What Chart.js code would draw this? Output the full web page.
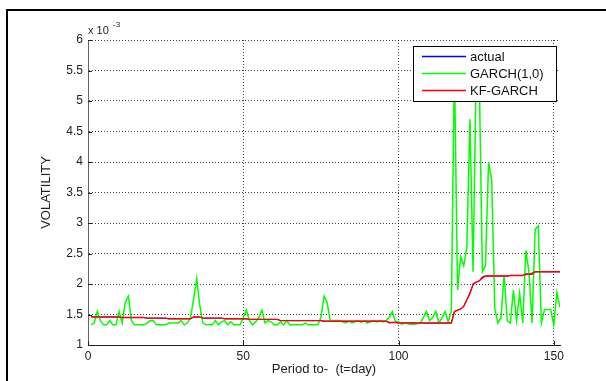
<!DOCTYPE html>
<html>
<head>
<meta charset="utf-8">
<script src="https://cdn.jsdelivr.net/npm/chart.js@4.4.1/dist/chart.umd.min.js"></script>
<style>
  html, body { margin: 0; padding: 0; background: #fff; }
  #wrap { position: relative; width: 606px; height: 381px; }
</style>
</head>
<body>
<div id="wrap"><canvas id="grafico" width="606" height="381"></canvas></div>
<script>
// Valores (escala x 10^-3), periodo 1..152
var actual = [
  1.46,1.46,1.46,1.46,1.46,1.46,1.46,1.46,1.46,1.46,
  1.45,1.45,1.45,1.45,1.45,1.45,1.45,1.45,1.44,1.44,
  1.44,1.44,1.44,1.44,1.44,1.43,1.43,1.43,1.43,1.43,
  1.43,1.43,1.43,1.46,1.46,1.46,1.44,1.44,1.44,1.44,
  1.44,1.44,1.44,1.43,1.43,1.43,1.43,1.43,1.43,1.43,
  1.43,1.42,1.42,1.42,1.42,1.42,1.42,1.42,1.42,1.42,
  1.42,1.40,1.40,1.40,1.40,1.40,1.40,1.40,1.40,1.40,
  1.40,1.40,1.40,1.40,1.40,1.39,1.39,1.39,1.39,1.39,
  1.39,1.39,1.39,1.39,1.39,1.39,1.39,1.39,1.39,1.39,
  1.39,1.39,1.39,1.39,1.39,1.39,1.36,1.37,1.37,1.36,
  1.36,1.36,1.36,1.36,1.36,1.36,1.36,1.36,1.36,1.36,
  1.36,1.36,1.36,1.36,1.36,1.36,1.36,1.55,1.57,1.59,
  1.64,1.74,1.86,1.98,2.03,2.05,2.12,2.13,2.13,2.13,
  2.13,2.13,2.13,2.13,2.13,2.14,2.14,2.14,2.14,2.14,
  2.17,2.16,2.18,2.20,2.20,2.20,2.20,2.20,2.20,2.20,
  2.20,2.20
];
var garch = [
  1.33,1.36,1.55,1.40,1.33,1.33,1.40,1.33,1.33,1.55,
  1.36,1.70,1.80,1.40,1.33,1.33,1.33,1.33,1.36,1.40,
  1.40,1.33,1.33,1.33,1.33,1.36,1.36,1.36,1.36,1.40,
  1.33,1.36,1.45,1.75,2.09,1.65,1.36,1.33,1.33,1.33,
  1.40,1.33,1.38,1.40,1.33,1.38,1.33,1.33,1.33,1.45,
  1.57,1.40,1.33,1.38,1.45,1.57,1.36,1.40,1.38,1.33,
  1.33,1.38,1.33,1.40,1.33,1.33,1.33,1.33,1.33,1.36,
  1.33,1.33,1.33,1.33,1.45,1.80,1.70,1.40,1.40,1.40,
  1.40,1.38,1.36,1.39,1.36,1.38,1.40,1.37,1.40,1.36,
  1.38,1.40,1.38,1.40,1.38,1.40,1.45,1.55,1.38,1.38,
  1.34,1.36,1.35,1.34,1.34,1.35,1.36,1.45,1.55,1.40,
  1.45,1.55,1.36,1.45,1.55,1.38,1.55,5.60,1.90,2.45,
  2.30,2.60,4.70,2.20,5.50,5.40,2.20,2.30,4.00,3.70,
  1.60,1.36,1.45,2.15,1.40,1.36,1.90,1.40,1.85,1.36,
  2.55,2.20,1.36,2.90,2.95,1.36,1.58,1.58,1.58,1.33,
  1.86,1.62
];
var kfGarch = [
  1.46,1.46,1.46,1.46,1.46,1.46,1.46,1.46,1.46,1.46,
  1.45,1.45,1.45,1.45,1.45,1.45,1.45,1.45,1.44,1.44,
  1.44,1.44,1.44,1.44,1.44,1.43,1.43,1.43,1.43,1.43,
  1.43,1.43,1.43,1.46,1.46,1.46,1.44,1.44,1.44,1.44,
  1.44,1.44,1.44,1.43,1.43,1.43,1.43,1.43,1.43,1.43,
  1.43,1.42,1.42,1.42,1.42,1.42,1.42,1.42,1.42,1.42,
  1.42,1.40,1.40,1.40,1.40,1.40,1.40,1.40,1.40,1.40,
  1.40,1.40,1.40,1.40,1.40,1.39,1.39,1.39,1.39,1.39,
  1.39,1.39,1.39,1.39,1.39,1.39,1.39,1.39,1.39,1.39,
  1.39,1.39,1.39,1.39,1.39,1.39,1.37,1.37,1.37,1.36,
  1.36,1.36,1.36,1.36,1.36,1.36,1.36,1.36,1.36,1.36,
  1.36,1.36,1.36,1.36,1.36,1.36,1.36,1.55,1.57,1.59,
  1.63,1.74,1.84,2.00,2.03,2.05,2.10,2.13,2.13,2.13,
  2.13,2.13,2.13,2.13,2.13,2.14,2.14,2.14,2.14,2.14,
  2.16,2.16,2.16,2.20,2.20,2.20,2.20,2.20,2.20,2.20,
  2.20,2.20
];
var xTicks = [0, 50, 100, 150];
var yTicks = [1, 1.5, 2, 2.5, 3, 3.5, 4, 4.5, 5, 5.5, 6];
var etiquetas = ["actual", "GARCH(1,0)", "KF-GARCH"];
var colores = ["#0000ff", "#00ff00", "#ff0000"];

function puntos(serie) {
  return serie.map(function (v, i) { return { x: i + 1, y: v }; });
}

// Marco, titulos, exponente, marcas de escala y leyenda al estilo MATLAB
var decorado = {
  id: "decorado",
  afterDatasetsDraw: function (chart) {
    var ctx = chart.ctx;
    var area = chart.chartArea;
    var sx = chart.scales.x, sy = chart.scales.y;
    ctx.save();

    // marcas hacia dentro
    ctx.strokeStyle = "#222";
    ctx.lineWidth = 1;
    ctx.beginPath();
    yTicks.forEach(function (t) {
      var y = Math.round(sy.getPixelForValue(t)) + 0.5;
      ctx.moveTo(area.left, y); ctx.lineTo(area.left + 4, y);
    });
    xTicks.forEach(function (t) {
      var x = Math.round(sx.getPixelForValue(t)) + 0.5;
      ctx.moveTo(x, area.bottom); ctx.lineTo(x, area.bottom - 4);
    });
    ctx.stroke();

    // leyenda
    var lx = 413.5, ly = 46.5, lw = 143, lh = 55;
    ctx.fillStyle = "#fff";
    ctx.fillRect(lx, ly, lw, lh);
    ctx.strokeStyle = "#000";
    ctx.strokeRect(lx, ly, lw, lh);
    ctx.font = "13px 'Liberation Sans', Arial, sans-serif";
    ctx.textBaseline = "middle";
    ctx.textAlign = "left";
    etiquetas.forEach(function (txt, i) {
      var y = 56 + i * 17;
      ctx.strokeStyle = colores[i];
      ctx.lineWidth = 1.6;
      ctx.beginPath();
      ctx.moveTo(422, y + 0.5); ctx.lineTo(466, y + 0.5);
      ctx.stroke();
      ctx.fillStyle = "#111";
      ctx.fillText(txt, 470, y + 1);
    });

    // exponente
    ctx.fillStyle = "#222";
    ctx.textBaseline = "alphabetic";
    ctx.font = "11px 'Liberation Sans', Arial, sans-serif";
    ctx.fillText("x 10", 88, 34);
    ctx.font = "8px 'Liberation Sans', Arial, sans-serif";
    ctx.fillText("-3", 113, 27);

    // titulos de ejes
    ctx.font = "13px 'Liberation Sans', Arial, sans-serif";
    ctx.textAlign = "center";
    ctx.fillText("Period to-  (t=day)", (area.left + area.right) / 2, 373);
    ctx.translate(50, (area.top + area.bottom) / 2);
    ctx.rotate(-Math.PI / 2);
    ctx.fillText("VOLATILITY", 0, 0);
    ctx.restore();

    // marco de la figura
    ctx.save();
    ctx.strokeStyle = "#000";
    ctx.lineWidth = 2;
    ctx.beginPath();
    ctx.moveTo(7, 381); ctx.lineTo(7, 10); ctx.lineTo(606, 10);
    ctx.stroke();
    ctx.restore();
  }
};

var fuente = { family: "'Liberation Sans', Arial, sans-serif", size: 12 };

var ctx = document.getElementById("grafico").getContext("2d");
var grafico = new Chart(ctx, {
  type: "line",
  data: {
    datasets: [
      { label: etiquetas[0], data: puntos(actual), borderColor: colores[0], borderWidth: 1, order: 3 },
      { label: etiquetas[1], data: puntos(garch), borderColor: colores[1], borderWidth: 1.5, order: 2 },
      { label: etiquetas[2], data: puntos(kfGarch), borderColor: colores[2], borderWidth: 1.4, order: 1 }
    ]
  },
  options: {
    responsive: false,
    animation: false,
    devicePixelRatio: 1,
    layout: { padding: { top: 40, right: 46, left: 0, bottom: 0 } },
    elements: { point: { radius: 0 }, line: { tension: 0 } },
    plugins: { legend: { display: false }, tooltip: { enabled: false } },
    scales: {
      x: {
        type: "linear",
        min: 0, max: 152,
        afterFit: function (s) { s.height = 36; },
        afterBuildTicks: function (s) {
          s.ticks = xTicks.map(function (v) { return { value: v }; });
        },
        ticks: { maxRotation: 0, padding: 4, color: "#222", font: fuente },
        grid: { color: "rgba(0,0,0,0.75)", drawTicks: false },
        border: { color: "#222", dash: [1, 2], display: true }
      },
      y: {
        min: 1, max: 6,
        afterFit: function (s) { s.width = 88; },
        afterBuildTicks: function (s) {
          s.ticks = yTicks.map(function (v) { return { value: v }; });
        },
        ticks: {
          padding: 5, color: "#222", font: fuente,
          callback: function (v) { return String(v); }
        },
        grid: { color: "rgba(0,0,0,0.75)", drawTicks: false },
        border: { color: "#666", dash: [1, 2], display: true }
      }
    }
  },
  plugins: [decorado]
});
</script>
</body>
</html>
